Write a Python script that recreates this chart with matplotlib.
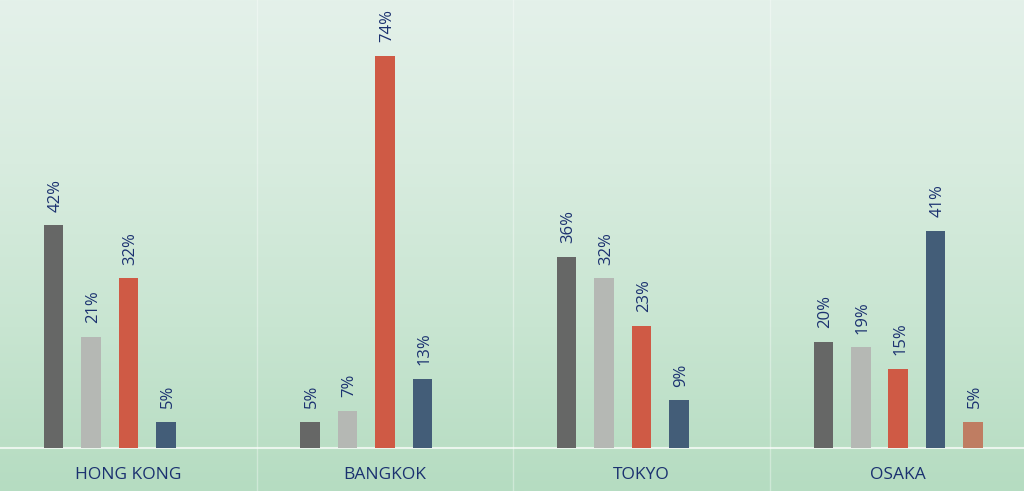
import numpy as np
import matplotlib
matplotlib.use("Agg")
import matplotlib.pyplot as plt
from matplotlib.colors import LinearSegmentedColormap

cities = ["HONG KONG", "BANGKOK", "TOKYO", "OSAKA"]
hong_kong = [42, 21, 32, 5]
bangkok = [5, 7, 74, 13]
tokyo = [36, 32, 23, 9]
osaka = [20, 19, 15, 41, 5]
groups = [hong_kong, bangkok, tokyo, osaka]

COLORS = ["#666766", "#b5b8b4", "#cf5a45", "#435d78", "#bf7d62"]
TXT = "#1b3170"

fig = plt.figure(figsize=(10.24, 4.91), dpi=100)

# background gradient
bg = fig.add_axes([0, 0, 1, 1], zorder=0)
grad = np.linspace(0, 1, 256).reshape(-1, 1)
cmap = LinearSegmentedColormap.from_list("bg", ["#e4f1ea", "#d8ecdf", "#c8e5d1", "#b5dcc1"])
bg.imshow(grad, aspect="auto", cmap=cmap, extent=[0, 1, 0, 1], origin="upper")
bg.set_xlim(0, 1); bg.set_ylim(0, 1)
bg.axis("off")

ax = fig.add_axes([0, 0, 1, 1], zorder=1)
ax.patch.set_alpha(0)
ax.set_xlim(-0.5, 3.49)
ax.set_ylim(-8.1, 84.5)
ax.axis("off")

step, width = 0.146, 0.076
for g, vals in enumerate(groups):
    for j, v in enumerate(vals):
        x = g + (j - 2) * step
        ax.bar(x, v, width=width, color=COLORS[j], zorder=3)
        ax.text(x + 0.008, v + 2.6, f"{v}%", rotation=90, ha="center", va="bottom",
                fontsize=12, color=TXT, family="Open Sans", zorder=4)
    ax.text(g, -5.0, cities[g], ha="center", va="center", fontsize=12.5,
            color=TXT, family="Open Sans", zorder=4)

# baseline and separators
ax.axhline(0, color="white", lw=1.5, alpha=0.7, zorder=2)
for s in [0.5, 1.5, 2.5]:
    ax.axvline(s, color="white", lw=1, alpha=0.35, zorder=2)

fig.savefig("out.png", dpi=100)
